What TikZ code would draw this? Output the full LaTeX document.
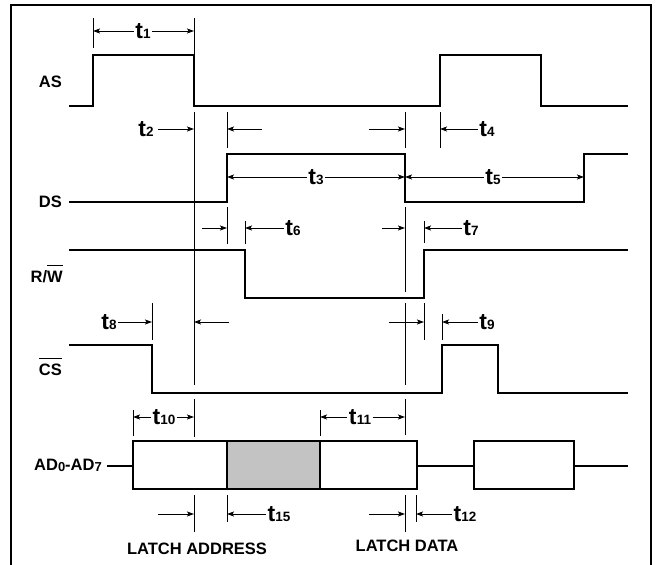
\documentclass[tikz,border=0pt]{standalone}
\usepackage{fontspec}
\setmainfont{Liberation Sans}
\usetikzlibrary{arrows.meta}
\definecolor{shade}{RGB}{195,195,195}
\newcommand\tsub[1]{t\kern0.2pt{\fontsize{13.5}{13.5}\selectfont\raisebox{-0.6pt}{#1}}}
\newcommand\lsub[1]{{\fontsize{13}{13}\selectfont\raisebox{-1pt}{#1}}}
\newcommand\ovl[1]{\vbox{\hrule height 0.9pt\kern4.6pt\hbox{#1}}}
\begin{document}
\begin{tikzpicture}[x=1pt,y=-1pt,
  sig/.style={line width=2.2pt,line join=miter,line cap=butt},
  thinl/.style={line width=0.9pt},
  arr/.style={line width=0.9pt,-{Stealth[length=7pt,width=5pt,inset=1.5pt]}},
  tlab/.style={font=\fontsize{23}{23}\selectfont\bfseries,inner sep=1.5pt},
  slab/.style={font=\fontsize{16.5}{16.5}\selectfont\bfseries,inner sep=0pt,anchor=base east},
  llab/.style={font=\fontsize{16.5}{16.5}\selectfont\bfseries,inner sep=0pt,anchor=base},
]
\useasboundingbox (0,0) rectangle (657,565);
\fill[white] (0,0) rectangle (657,565);
\draw[line width=2.4pt] (11,575) -- (11,5) -- (651,5) -- (651,575);

% signal labels
\node[slab] (las) at (62,87) {AS};
\node[slab] (lds) at (62,207) {DS};
\node[slab] (lrw) at (63,282) {R/\ovl{W}};
\node[slab] (lcs) at (62,375) {\ovl{CS}};
\node[slab] (lad) at (102,470) {AD\lsub{0}-AD\lsub{7}};

% waveforms
\draw[sig] (69,106) -- (93,106) -- (93,55) -- (194,55) -- (194,106) -- (440,106) -- (440,55) -- (541,55) -- (541,106) -- (628,106);
\draw[sig] (69,202) -- (227,202) -- (227,154) -- (405,154) -- (405,202) -- (584,202) -- (584,154) -- (628,154);
\draw[sig] (69,250) -- (245,250) -- (245,298) -- (424,298) -- (424,250) -- (628,250);
\draw[sig] (69,345) -- (152,345) -- (152,393) -- (442,393) -- (442,345) -- (498,345) -- (498,393) -- (628,393);
\draw[sig] (107,466) -- (133,466);
\draw[sig] (133,441) rectangle (417,489);
\draw[sig,fill=shade] (227,441) rectangle (320,489);
\draw[sig] (417,466) -- (474,466);
\draw[sig] (474,441) rectangle (574,489);
\draw[sig] (574,466) -- (628,466);

% marker lines
\draw[thinl] (93,18) -- (93,48);
\draw[thinl] (194,18) -- (194,55);
\draw[thinl] (194,112) -- (194,385);
\draw[thinl] (194,399) -- (194,437);
\draw[thinl] (194,495) -- (194,532);
\draw[thinl] (227,112) -- (227,148);
\draw[thinl] (227,207) -- (227,244);
\draw[thinl] (227,495) -- (227,522);
\draw[thinl] (405,112) -- (405,148);
\draw[thinl] (405,207) -- (405,292);
\draw[thinl] (405,303) -- (405,385);
\draw[thinl] (405,399) -- (405,435);
\draw[thinl] (405,495) -- (405,532);
\draw[thinl] (440,112) -- (440,148);
\draw[thinl] (245,221) -- (245,244);
\draw[thinl] (424,221) -- (424,243);
\draw[thinl] (424,303) -- (424,340);
\draw[thinl] (152,303) -- (152,340);
\draw[thinl] (442,314) -- (442,340);
\draw[thinl] (133,410) -- (133,436);
\draw[thinl] (320,410) -- (320,436);
\draw[thinl] (416,495) -- (416,522);

% arrow end points
\coordinate (a1l) at (93,31);   \coordinate (a1r) at (194,31);
\coordinate (a2r) at (194,129); \coordinate (a2s) at (158,129);
\coordinate (b2l) at (227,129); \coordinate (b2s) at (262,129);
\coordinate (a4l) at (405,129); \coordinate (a4s) at (369,129);
\coordinate (b4r) at (440,129);
\coordinate (a3l) at (227,177); \coordinate (a3r) at (405,177);
\coordinate (a5l) at (405,177); \coordinate (a5r) at (584,177);
\coordinate (a6l) at (227,228); \coordinate (a6s) at (202,228);
\coordinate (b6r) at (245,228);
\coordinate (a7l) at (405,228); \coordinate (a7s) at (382,228);
\coordinate (b7r) at (424,228);
\coordinate (a8r) at (152,322);
\coordinate (b8l) at (194,322); \coordinate (b8s) at (229,322);
\coordinate (a9l) at (424,322); \coordinate (a9s) at (389,322);
\coordinate (b9r) at (442,322);
\coordinate (a10l) at (133,417); \coordinate (a10r) at (194,417);
\coordinate (a11l) at (320,417); \coordinate (a11r) at (405,417);
\coordinate (a15l) at (194,514); \coordinate (a15s) at (158,514);
\coordinate (b15r) at (227,514);
\coordinate (a12l) at (405,514); \coordinate (a12s) at (369,514);
\coordinate (b12r) at (416,514);

% timing labels
\node[tlab] (t1) at (143,31) {\tsub{1}};
\node[tlab] (t2) at (146,129) {\tsub{2}};
\node[tlab] (t3) at (316,177) {\tsub{3}};
\node[tlab] (t4) at (487,129) {\tsub{4}};
\node[tlab] (t5) at (493,177) {\tsub{5}};
\node[tlab] (t6) at (293,228) {\tsub{6}};
\node[tlab] (t7) at (471,228) {\tsub{7}};
\node[tlab] (t8) at (109,322) {\tsub{8}};
\node[tlab] (t9) at (487,322) {\tsub{9}};
\node[tlab] (t10) at (164,417) {\tsub{10}};
\node[tlab] (t11) at (360,417) {\tsub{11}};
\node[tlab] (t15) at (279,514) {\tsub{15}};
\node[tlab] (t12) at (465,514) {\tsub{12}};

% arrows
\draw[arr] (t1.west |- a1l) -- (a1l);
\draw[arr] (t1.east |- a1r) -- (a1r);
\draw[arr] (a2s) -- (a2r);
\draw[arr] (b2s) -- (b2l);
\draw[arr] (a4s) -- (a4l);
\draw[arr] (t4.west |- b4r) -- (b4r);
\draw[arr] (t3.west |- a3l) -- (a3l);
\draw[arr] (t3.east |- a3r) -- (a3r);
\draw[arr] (t5.west |- a5l) -- (a5l);
\draw[arr] (t5.east |- a5r) -- (a5r);
\draw[arr] (a6s) -- (a6l);
\draw[arr] (t6.west |- b6r) -- (b6r);
\draw[arr] (a7s) -- (a7l);
\draw[arr] (t7.west |- b7r) -- (b7r);
\draw[arr] (t8.east |- a8r) -- (a8r);
\draw[arr] (b8s) -- (b8l);
\draw[arr] (a9s) -- (a9l);
\draw[arr] (t9.west |- b9r) -- (b9r);
\draw[arr] (t10.west |- a10l) -- (a10l);
\draw[arr] (t10.east |- a10r) -- (a10r);
\draw[arr] (t11.west |- a11l) -- (a11l);
\draw[arr] (t11.east |- a11r) -- (a11r);
\draw[arr] (a15s) -- (a15l);
\draw[arr] (t15.west |- b15r) -- (b15r);
\draw[arr] (a12s) -- (a12l);
\draw[arr] (t12.west |- b12r) -- (b12r);

% latch labels
\node[llab] (lla) at (197,554) {LATCH ADDRESS};
\node[llab] (lld) at (407,551) {LATCH DATA};
\end{tikzpicture}
\end{document}
